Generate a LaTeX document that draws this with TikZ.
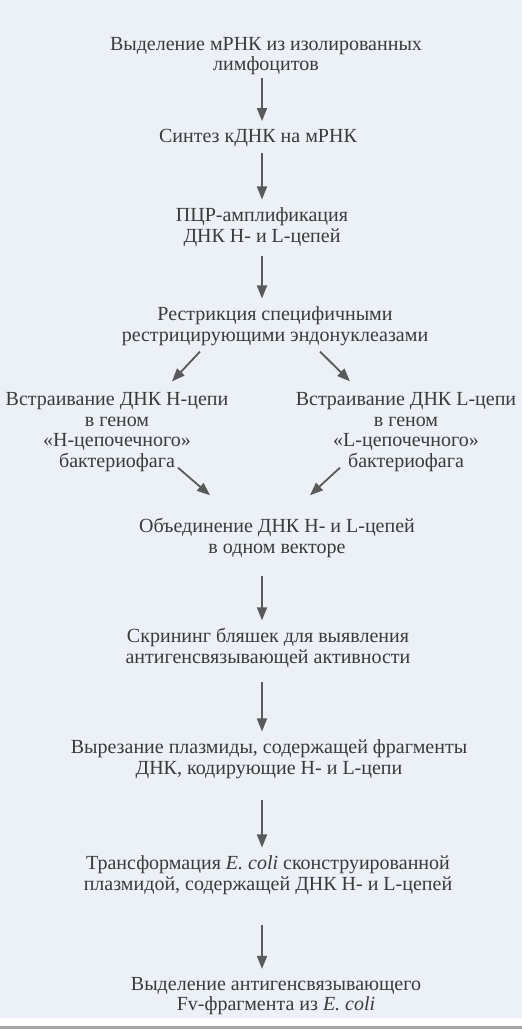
\documentclass[tikz,border=0pt]{standalone}
\usepackage{fontspec}
\setmainfont{Liberation Serif}
\usetikzlibrary{arrows.meta}
\definecolor{paper}{HTML}{EBF1F7}
\definecolor{ink}{HTML}{3A3A3A}
\definecolor{arrowgray}{HTML}{5A5A5A}
\begin{document}
\begin{tikzpicture}[
    x=1pt, y=-1pt,
    stage/.style={
        text=ink,
        align=center,
        inner sep=0pt,
        font=\fontsize{20}{20.5}\selectfont
    },
    arr/.style={
        -{Triangle[length=13pt,width=10pt]},
        line width=1.8pt,
        draw=arrowgray,
        shorten <=6pt,
        shorten >=8pt
    },
    diag/.style={arr, shorten <=0pt, shorten >=0pt}
]
    % paper
    \useasboundingbox (0,0) rectangle (522,1029);
    \fill[paper] (0,0) rectangle (522,1018);
    \fill[gray!70] (0,1026) rectangle (522,1029);

    \coordinate (axis) at (262,0);

    \node[stage] (mrna) at (266,56) {Выделение мРНК из изолированных\\лимфоцитов};
    \node[stage] (cdna) at (258,138) {Синтез кДНК на мРНК};
    \node[stage] (pcr) at (262,227) {ПЦР-амплификация\\ДНК H- и L-цепей};
    \node[stage] (restr) at (275,326) {Рестрикция специфичными\\рестрицирующими эндонуклеазами};

    \node[stage] (hchain) at (117,432) {Встраивание ДНК H-цепи\\в геном\\«H-цепочечного»\\бактериофага};
    \node[stage] (lchain) at (406,432) {Встраивание ДНК L-цепи\\в геном\\«L-цепочечного»\\бактериофага};

    \node[stage] (merge) at (277,538) {Объединение ДНК H- и L-цепей\\в одном векторе};
    \node[stage] (screen) at (268,648) {Скрининг бляшек для выявления\\антигенсвязывающей активности};
    \node[stage] (cut) at (269,759) {Вырезание плазмиды, содержащей фрагменты\\ДНК, кодирующие H- и L-цепи};
    \node[stage] (transf) at (268,875) {Трансформация \textit{E.~coli} сконструированной\\плазмидой, содержащей ДНК H- и L-цепей};
    \node[stage] (fv) at (276,996) {Выделение антигенсвязывающего\\Fv-фрагмента из \textit{E.~coli}};

    \draw[arr, shorten <=3pt] (mrna.south -| axis) -- (cdna.north -| axis);
    \draw[arr] (cdna.south -| axis) -- (pcr.north -| axis);
    \draw[arr, shorten <=9pt] (pcr.south -| axis) -- (restr.north -| axis);

    % split and join
    \draw[diag] ([xshift=-75pt,yshift=-6pt]restr.south) -- ([xshift=55pt,yshift=11pt]hchain.north);
    \draw[diag] ([xshift=45pt,yshift=-6pt]restr.south) -- ([xshift=-56pt,yshift=11pt]lchain.north);
    \draw[diag] ([xshift=61pt,yshift=4pt]hchain.south) -- ([xshift=-67pt,yshift=23pt]merge.north);
    \draw[diag] ([xshift=-66pt,yshift=4pt]lchain.south) -- ([xshift=33pt,yshift=23pt]merge.north);

    \draw[arr, shorten <=18pt] (merge.south -| axis) -- (screen.north -| axis);
    \draw[arr, shorten <=14pt] (screen.south -| axis) -- (cut.north -| axis);
    \draw[arr, shorten <=21pt] (cut.south -| axis) -- (transf.north -| axis);
    \draw[arr, shorten <=30pt] (transf.south -| axis) -- (fv.north -| axis);
\end{tikzpicture}
\end{document}
